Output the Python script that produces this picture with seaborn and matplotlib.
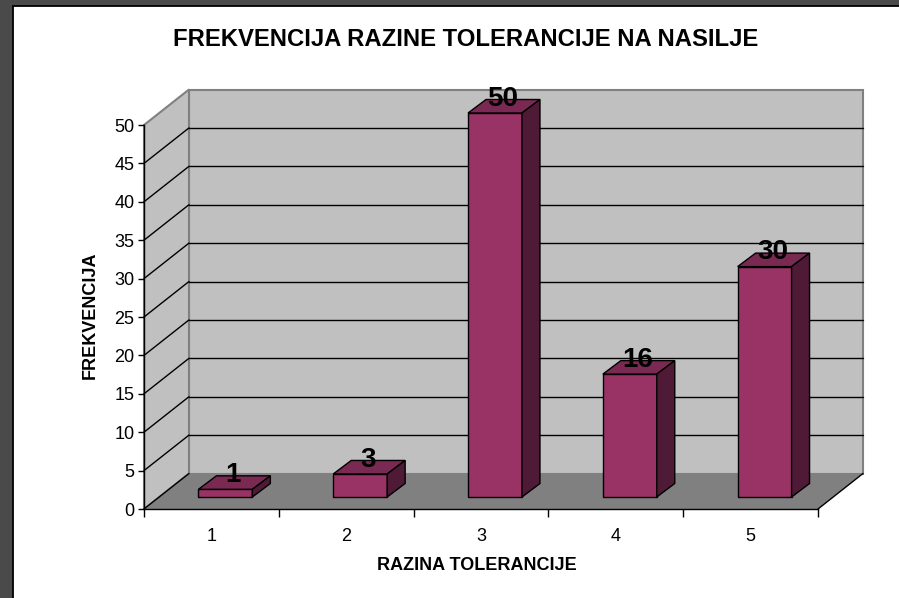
import matplotlib.pyplot as plt
import numpy as np
import pandas as pd
import seaborn as sns
from matplotlib.patches import Polygon, Rectangle

# data
levels = ["1", "2", "3", "4", "5"]
freq = [1, 3, 50, 16, 30]
yticks = list(range(0, 55, 5))

title = "FREKVENCIJA RAZINE TOLERANCIJE NA NASILJE"
xlabel = "RAZINA TOLERANCIJE"
ylabel = "FREKVENCIJA"

# colours (Excel-like 3D column chart)
front_col = "#993366"
top_col = "#7a2952"
side_col = "#4f1a36"
wall_col = "#c0c0c0"
floor_col = "#808080"

# figure size and front plane of the plot, in pixels
W, H = 899, 598
left, right, bottom, top = 144, 818, 509, 125

sns.set_style("ticks")
plt.rcParams['font.family'] = ['Liberation Sans', 'DejaVu Sans']
plt.rcParams['text.color'] = 'black'
plt.rcParams['axes.labelcolor'] = 'black'
plt.rcParams['xtick.color'] = 'black'
plt.rcParams['ytick.color'] = 'black'

fig = plt.figure(figsize=(W / 100, H / 100), dpi=100)
fig.patch.set_facecolor("#4a4a4a")
fig.add_artist(Rectangle((12.5 / W, -0.02), 1.1, 1.02 - 5.5 / H, transform=fig.transFigure,
                         facecolor="white", edgecolor="black", lw=1.3, zorder=0))

ax = fig.add_axes([left / W, 1 - bottom / H, (right - left) / W, (bottom - top) / H])

df = pd.DataFrame({"razina": levels, "frekvencija": freq})
sns.barplot(data=df, x="razina", y="frekvencija", color=front_col, saturation=1,
            width=0.4, edgecolor="black", linewidth=1, ax=ax, zorder=3)
bars = list(ax.patches)

ax.set_xlim(-0.5, 4.5)
ax.set_ylim(0, 50)
ax.set_facecolor("none")

# pixel -> data unit conversion for the 3D offsets
sx = (right - left) / 5.0
sy = (bottom - top) / 50.0
wx, wy = 45 / sx, 35.5 / sy     # depth of walls / floor
bx, by = 14 / sx, 12 / sy       # bars sit a bit behind the front plane
ddx, ddy = 18 / sx, 13.5 / sy   # depth of each bar

# back wall, left wall, floor
ax.add_patch(Polygon([(-0.5 + wx, wy), (4.5 + wx, wy), (4.5 + wx, 50 + wy), (-0.5 + wx, 50 + wy)],
                     closed=True, fc=wall_col, ec="#808080", lw=1.5, clip_on=False, zorder=0.5))
ax.add_patch(Polygon([(-0.5, 0), (-0.5 + wx, wy), (-0.5 + wx, 50 + wy), (-0.5, 50)],
                     closed=True, fc=wall_col, ec="#808080", lw=1.5, clip_on=False, zorder=0.5))
ax.add_patch(Polygon([(-0.5, 0), (4.5, 0), (4.5 + wx, wy), (-0.5 + wx, wy)],
                     closed=True, fc=floor_col, ec="none", clip_on=False, zorder=0.6))
ax.plot([4.5, 4.5 + wx], [0, wy], color="black", lw=1, clip_on=False, zorder=0.9)

# gridlines on back and left walls
for v in yticks[:-1]:
    if v > 0:
        ax.plot([-0.5 + wx, 4.5 + wx], [v + wy, v + wy], color="black", lw=1, clip_on=False, zorder=0.8)
    ax.plot([-0.5, -0.5 + wx], [v, v + wy], color="black", lw=1, clip_on=False, zorder=0.8)

# 3D bars: shift the seaborn bars back and add top + side faces
for p, v in zip(bars, freq):
    x0 = p.get_x() + bx
    w = p.get_width()
    p.set_x(x0)
    p.set_y(by)
    p.set_clip_on(False)
    top_face = [(x0, v + by), (x0 + w, v + by), (x0 + w + ddx, v + by + ddy), (x0 + ddx, v + by + ddy)]
    side_face = [(x0 + w, by), (x0 + w + ddx, by + ddy), (x0 + w + ddx, v + by + ddy), (x0 + w, v + by)]
    ax.add_patch(Polygon(top_face, closed=True, fc=top_col, ec="black", lw=1, clip_on=False, zorder=3))
    ax.add_patch(Polygon(side_face, closed=True, fc=side_col, ec="black", lw=1, clip_on=False, zorder=3))
    ax.text(x0 + w / 2 + ddx / 2 - 1 / sx, v + by + ddy / 2 + 7.5 / sy, str(v), ha="center", va="center",
            fontsize=20, fontweight="bold", color="black", zorder=5)

# axes, ticks
for s in ["top", "right"]:
    ax.spines[s].set_visible(False)
for s in ["left", "bottom"]:
    ax.spines[s].set_color("black")
    ax.spines[s].set_linewidth(1)
    ax.spines[s].set_zorder(1)

ax.set_yticks(yticks)
ax.tick_params(axis="y", length=4, width=1, color="black", labelcolor="black", pad=3, labelsize=13)
ax.tick_params(axis="x", which="major", length=0, pad=14, labelcolor="black", labelsize=13)
ax.set_xticks(np.arange(-0.5, 5, 1), minor=True)
ax.tick_params(axis="x", which="minor", length=6, width=1, color="black")

ax.set_xlabel(xlabel, fontsize=13, fontweight="bold", color="black")
ax.set_ylabel(ylabel, fontsize=13, fontweight="bold", color="black")
ax.xaxis.set_label_coords((477 - left) / (right - left), (bottom - 565) / (bottom - top))
ax.xaxis.label.set_va("center")
ax.yaxis.set_label_coords((90 - left) / (right - left), (bottom - 315) / (bottom - top))
ax.yaxis.label.set_va("center")

fig.text(466 / W, 1 - 39 / H, title, ha="center", va="center", fontsize=17.2, fontweight="bold",
         color="black")

fig.savefig("out.png", dpi=100, facecolor=fig.get_facecolor())
